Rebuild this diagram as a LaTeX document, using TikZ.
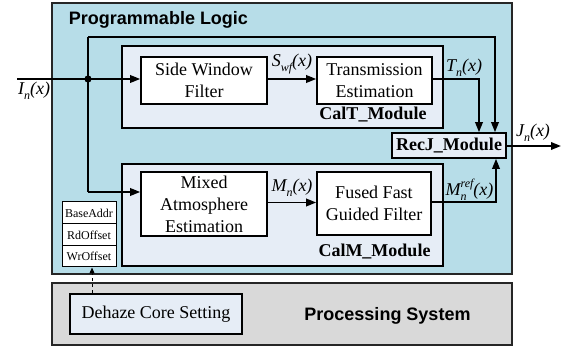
\documentclass[tikz,border=0pt]{standalone}
\usepackage{fontspec}
\setmainfont{Liberation Serif}
\newfontfamily\sansfont{Liberation Sans}
\usetikzlibrary{arrows.meta}
\definecolor{plblue}{HTML}{B7DDE8}
\definecolor{modfill}{HTML}{E6EDF6}
\definecolor{psgray}{HTML}{D9D9D9}
\newcommand{\subl}[1]{\raisebox{-0.28em}{\fontsize{12}{12}\selectfont\itshape #1}}
\begin{document}
\begin{tikzpicture}[x=1pt,y=-1pt,
 region/.style={draw=black!85, line width=1.5pt, inner sep=0pt},
 blk/.style={draw, line width=1.6pt, fill=white, inner sep=0pt, align=center, font=\fontsize{18}{22}\selectfont},
 modbox/.style={draw, line width=1.6pt, fill=modfill, inner sep=0pt},
 reg/.style={draw, line width=1pt, fill=white, minimum width=54pt, inner sep=0pt, font=\fontsize{12}{14}\selectfont},
 sig/.style={line width=1.8pt, -{Triangle[length=10pt,width=7.5pt]}},
 wire/.style={line width=1.8pt},
 lbl/.style={inner sep=0pt, font=\fontsize{18}{20}\selectfont\itshape},
 title/.style={inner sep=0pt, font=\fontsize{18}{20}\selectfont\sansfont\bfseries},
 modlbl/.style={inner sep=0pt, font=\fontsize{18}{20}\selectfont\bfseries},
 ]
\useasboundingbox (0,0) rectangle (566,352);
% regions
\node[region, fill=plblue, minimum width=460pt, minimum height=271pt] (PL) at (282,138.5) {};
\node[region, fill=psgray, minimum width=460pt, minimum height=62pt] (PS) at (282,314) {};
\node[title] (pltitle) at (158.5,20) {Programmable Logic};
\node[title] (pstitle) at (387.5,316) {Processing System};
% modules
\node[modbox, minimum width=321pt, minimum height=82pt] (CalT) at (282.5,87) {};
\node[modbox, minimum width=321pt, minimum height=102pt] (CalM) at (282.5,215) {};
\node[modlbl] (calTl) at (373,115) {CalT\_Module};
\node[modlbl] (calMl) at (374.5,252) {CalM\_Module};
% blocks
\node[blk, minimum width=126pt, minimum height=47pt] (SWF) at (204,80.5) {Side Window\\Filter};
\node[blk, minimum width=115pt, minimum height=47pt] (TE) at (374.5,80.5) {Transmission\\Estimation};
\node[blk, minimum width=126pt, minimum height=64pt] (MAE) at (204,204) {Mixed\\Atmosphere\\Estimation};
\node[blk, minimum width=114pt, minimum height=63pt] (FFGF) at (374,203.5) {Fused Fast\\Guided Filter};
\node[blk, fill=modfill, minimum width=114pt, minimum height=25pt, font=\fontsize{18}{20}\selectfont\bfseries] (RecJ) at (449,145.5) {RecJ\_Module};
% registers
\node[reg, minimum height=22pt] (r1) at (89,213) {BaseAddr};
\node[reg, minimum height=22pt] (r2) at (89,235) {RdOffset};
\node[reg, minimum height=21pt] (r3) at (89,256.5) {WrOffset};
\node[blk, fill=modfill, minimum width=172pt, minimum height=40pt] (DCS) at (156,314) {Dehaze Core Setting};
% wires
\coordinate (in) at (17,79);
\coordinate (dot) at (88,79);
\coordinate (top) at (88,37);
\coordinate (topr) at (495,37);
\coordinate (low) at (88,192);
\coordinate (tcol) at (479,79);
\coordinate (mcol) at (496,202);
\coordinate (out) at (561,146);
\draw[sig] (in) -- (SWF.west |- dot);
\fill (dot) circle (3.6pt);
\draw[wire] (low) -- (top);
\draw[sig] (top) -- (topr) -- (topr |- RecJ.north);
\draw[sig] (low) -- (MAE.west |- low);
\draw[sig] (SWF.east |- dot) -- (TE.west |- dot);
\draw[sig] (TE.east |- tcol) -- (tcol) -- (tcol |- RecJ.north);
\draw[sig] (MAE.east |- 0,202.5) -- (FFGF.west |- 0,202.5);
\draw[sig] (FFGF.east |- mcol) -- (mcol) -- (mcol |- RecJ.south);
\draw[sig] (RecJ.east |- out) -- (out);
\draw[line width=1pt, dashed, -{Triangle[length=6pt,width=5pt]}] (DCS.north -| 92,0) -- (r3.south -| 92,0);
% labels
\node[lbl, anchor=north west] (lI) at (18,81.5) {I\subl{n}(x)};
\node[lbl] (lS) at (292,64) {S\subl{wf}(x)};
\node[lbl] (lT) at (464,68) {T\subl{n}(x)};
\node[lbl] (lM) at (292,188) {M\subl{n}(x)};
\node[lbl] (lMr) at (469.5,190) {M\rlap{\subl{n}}\raisebox{0.45em}{\fontsize{12}{12}\selectfont\itshape ref}(x)};
\node[lbl] (lJ) at (533,133) {J\subl{n}(x)};
\end{tikzpicture}
\end{document}
